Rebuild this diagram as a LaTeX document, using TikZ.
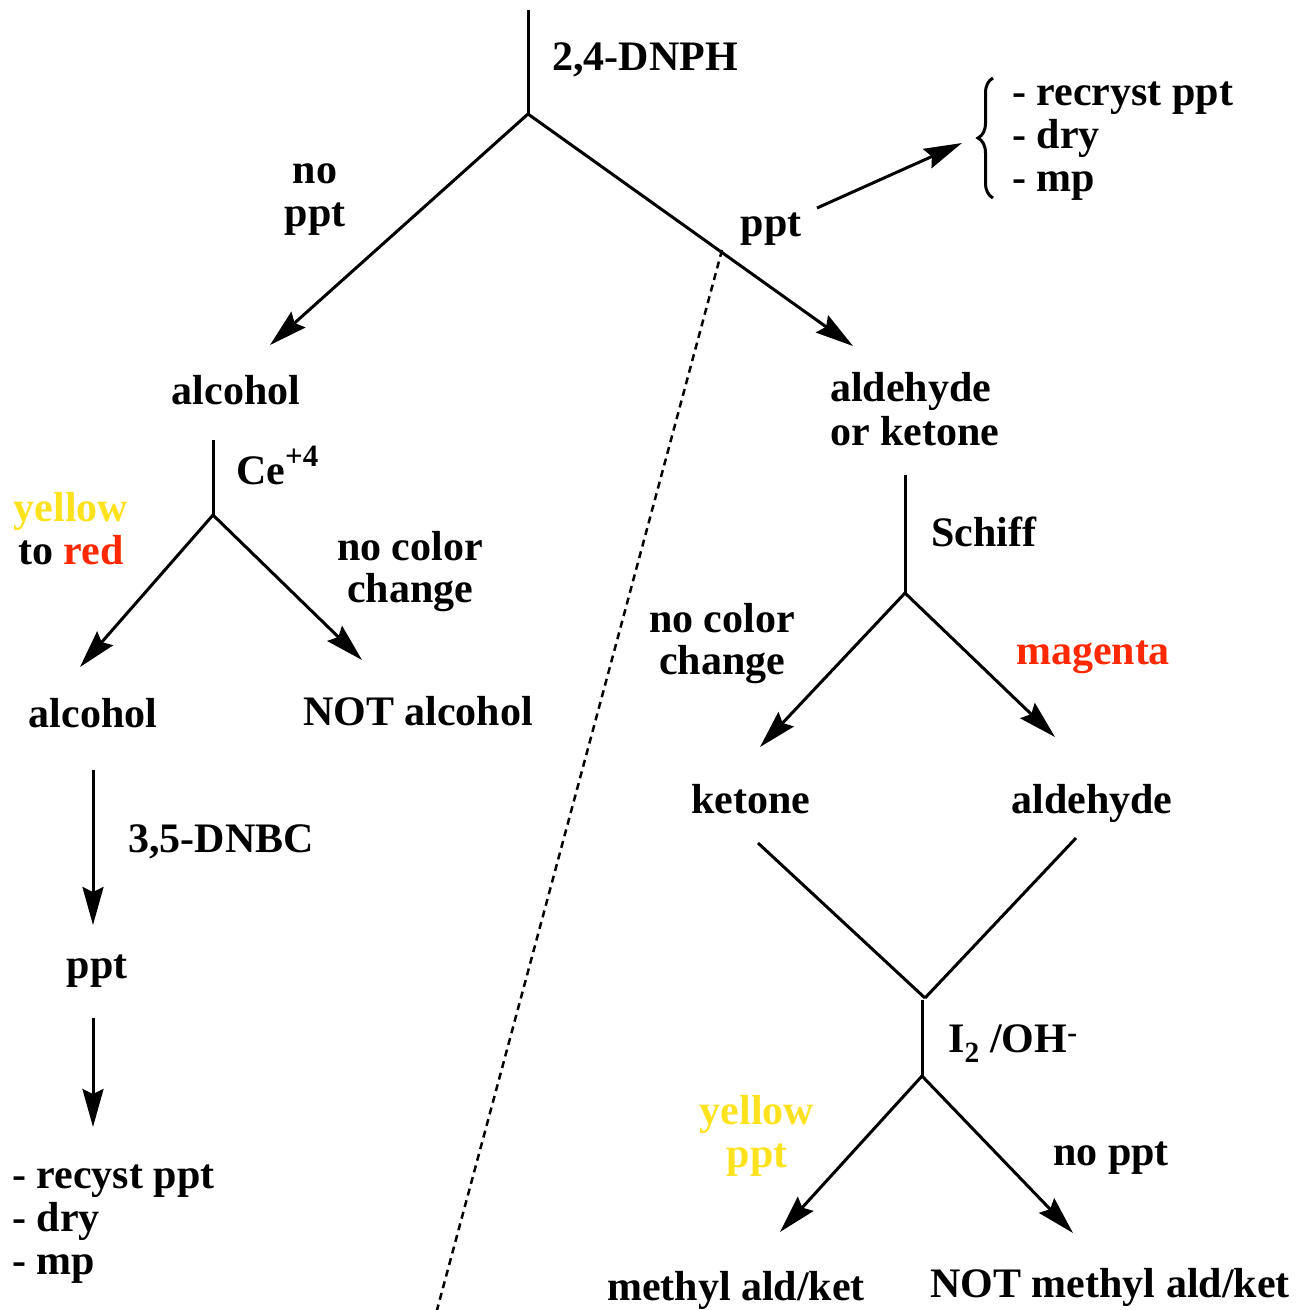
\documentclass[tikz,border=0pt]{standalone}
\usepackage{fontspec}
\setmainfont{Liberation Serif}
\usetikzlibrary{arrows.meta,decorations.pathreplacing}
\definecolor{yel}{RGB}{255,226,30}
\definecolor{redc}{RGB}{255,40,0}
\newcommand{\bigsup}[1]{\raisebox{0.42em}{\fontsize{31}{31}\selectfont #1}}
\begin{document}
\begin{tikzpicture}[x=1pt,y=-1pt,
  lbl/.style={font=\fontsize{42}{43}\selectfont\bfseries, inner sep=0pt, anchor=base},
  lblw/.style={lbl, anchor=base west},
  ln/.style={line width=3pt},
  arr/.style={line width=3pt,-{Stealth[length=38pt,width=21pt,inset=5pt]}},
  dotl/.style={line width=2.5pt,dash pattern=on 7pt off 5pt}
]
\useasboundingbox (0,0) rectangle (1298,1310);
% coordinates
\coordinate (top) at (528,10);
\coordinate (j1) at (528,114);
\coordinate (t1) at (270,345);
\coordinate (t2) at (853,346);
\coordinate (p1) at (817,208);
\coordinate (p2) at (962,143);
\coordinate (d1) at (722,250);
\coordinate (d2) at (437,1310);
\coordinate (c1) at (213,440);
\coordinate (c2) at (213,515);
\coordinate (t3) at (80,667);
\coordinate (t4) at (362,660);
\coordinate (a1) at (93,770);
\coordinate (a2) at (93,925);
\coordinate (a3) at (93,1018);
\coordinate (a4) at (93,1127);
\coordinate (s1) at (905,475);
\coordinate (s2) at (905,593);
\coordinate (t5) at (760,747);
\coordinate (t6) at (1055,737);
\coordinate (k1) at (758,843);
\coordinate (k2) at (1076,838);
\coordinate (j2) at (925,998);
\coordinate (i1) at (922,1000);
\coordinate (i2) at (922,1076);
\coordinate (t7) at (780,1232);
\coordinate (t8) at (1073,1233);
\coordinate (b1) at (993,78);
\coordinate (b2) at (993,198);

% texts
\node[lblw] (dnph) at (552,70) {2,4-DNPH};
\node[lbl] (no1) at (315,183) {no};
\node[lbl] (ppt1) at (315,226) {ppt};
\node[lbl] (ppt2) at (771,236) {ppt};
\node[lblw] (r1) at (1012,105) {- recryst ppt};
\node[lblw] (r2) at (1012,148) {- dry};
\node[lblw] (r3) at (1012,191) {- mp};
\node[lbl] (alc1) at (236,404) {alcohol};
\node[lblw] (ce) at (236,484) {Ce\bigsup{+4}};
\node[lbl,text=yel] (yel1) at (71,521) {yellow};
\node[lbl] (tored) at (71,564) {to \textcolor{redc}{red}};
\node[lbl] (ncc1) at (410,560) {no color};
\node[lbl] (ncc2) at (410,602) {change};
\node[lbl] (alc2) at (93,727) {alcohol};
\node[lbl] (notalc) at (418,725) {NOT alcohol};
\node[lblw] (dnbc) at (128,852) {3,5-DNBC};
\node[lbl] (ppt3) at (97,978) {ppt};
\node[lblw] (q1) at (12,1188) {- recyst ppt};
\node[lblw] (q2) at (12,1231) {- dry};
\node[lblw] (q3) at (12,1274) {- mp};
\node[lblw] (ald1) at (830,401) {aldehyde};
\node[lblw] (ork) at (830,445) {or ketone};
\node[lblw] (schiff) at (931,546) {Schiff};
\node[lbl] (ncc3) at (722,632) {no color};
\node[lbl] (ncc4) at (722,674) {change};
\node[lbl,text=redc] (mag) at (1093,664) {magenta};
\node[lbl] (ket) at (751,813) {ketone};
\node[lbl] (ald2) at (1092,813) {aldehyde};
\node[lblw] (iod) at (948,1052) {I\textsubscript{2} /OH\textsuperscript{-}};
\node[lbl,text=yel] (yel2) at (757,1124) {yellow};
\node[lbl,text=yel] (yel3) at (757,1167) {ppt};
\node[lbl] (noppt) at (1111,1165) {no ppt};
\node[lbl] (meth) at (736,1300) {methyl ald/ket};
\node[lbl] (notmeth) at (1110,1297) {NOT methyl ald/ket};

% connectors
\draw[ln] (top) -- (j1);
\draw[arr] (j1) -- (t1);
\draw[arr] (j1) -- (t2);
\draw[arr] (p1) -- (p2);
\draw[line width=3pt,decorate,decoration={brace,amplitude=15pt,mirror}] (b1) -- (b2);
\draw[dotl] (d1) -- (d2);
\draw[ln] (c1) -- (c2);
\draw[arr] (c2) -- (t3);
\draw[arr] (c2) -- (t4);
\draw[arr] (a1) -- (a2);
\draw[arr] (a3) -- (a4);
\draw[ln] (s1) -- (s2);
\draw[arr] (s2) -- (t5);
\draw[arr] (s2) -- (t6);
\draw[ln] (k1) -- (j2);
\draw[ln] (k2) -- (j2);
\draw[ln] (i1) -- (i2);
\draw[arr] (i2) -- (t7);
\draw[arr] (i2) -- (t8);
\end{tikzpicture}
\end{document}
